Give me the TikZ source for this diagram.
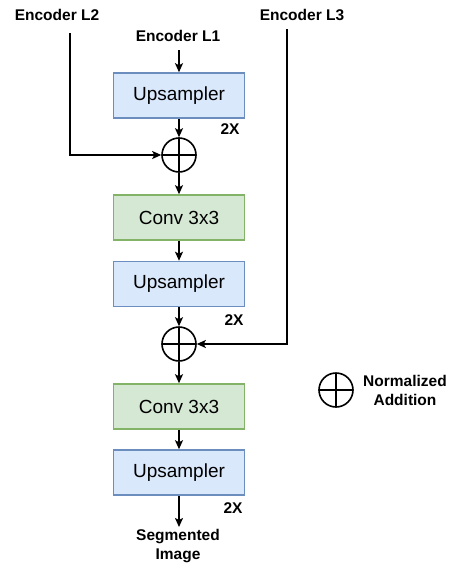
\documentclass[tikz,border=0pt]{standalone}
\usepackage{fontspec}
\setmainfont{Liberation Sans}
\usetikzlibrary{arrows.meta}
\definecolor{upfill}{HTML}{DAE8FC}
\definecolor{updraw}{HTML}{6C8EBF}
\definecolor{convfill}{HTML}{D5E8D4}
\definecolor{convdraw}{HTML}{82B366}
\begin{document}
\begin{tikzpicture}[x=1pt,y=-1pt,
  block/.style={minimum width=131pt,minimum height=45pt,line width=1.6pt,
    font=\fontsize{19}{22}\selectfont,inner sep=0pt},
  upbox/.style={block,draw=updraw,fill=upfill},
  convbox/.style={block,draw=convdraw,fill=convfill},
  lbl/.style={font=\fontsize{15.5}{19}\selectfont\bfseries,align=center,inner sep=0pt},
  sumnode/.style={circle,draw,line width=1.6pt,minimum size=34pt,inner sep=0pt,
    path picture={\draw[line width=1.6pt]
      (path picture bounding box.north) -- (path picture bounding box.south)
      (path picture bounding box.west) -- (path picture bounding box.east);}},
  conn/.style={line width=1.6pt,-{Stealth[length=9pt,width=8pt,inset=2pt]}},
]
\useasboundingbox (0,0) rectangle (450,568);

% inputs
\node[lbl] (l2) at (57,15) {Encoder L2};
\node[lbl] (l1) at (178,36) {Encoder L1};
\node[lbl] (l3) at (302,15) {Encoder L3};
\coordinate (l2s) at (70,33);
\coordinate (l1s) at (179,50);
\coordinate (l3s) at (287,29);

% decoder chain
\node[upbox] (up1) at (179,95.5) {Upsampler};
\node[lbl] (x1) at (230,129) {2X};
\node[sumnode] (s1) at (179,155) {};
\node[convbox] (c1) at (179,217.5) {Conv 3x3};
\node[upbox] (up2) at (179,284) {Upsampler};
\node[lbl] (x2) at (234,320) {2X};
\node[sumnode] (s2) at (179,344) {};
\node[convbox] (c2) at (179,406.5) {Conv 3x3};
\node[upbox] (up3) at (179,472.5) {Upsampler};
\node[lbl] (x3) at (233,508) {2X};
\node[lbl] (seg) at (178,546) {Segmented\\Image};
\coordinate (segn) at (179,527);

% legend
\node[sumnode] (leg) at (336,390) {};
\node[lbl] (legt) at (405,390) {Normalized\\Addition};

% connectors
\draw[conn] (l1s) -- (up1.north);
\draw[conn] (up1.south) -- (s1.north);
\draw[conn] (l2s) |- (s1.west);
\draw[conn] (s1.south) -- (c1.north);
\draw[conn] (c1.south) -- (up2.north);
\draw[conn] (up2.south) -- (s2.north);
\draw[conn] (l3s) |- (s2.east);
\draw[conn] (s2.south) -- (c2.north);
\draw[conn] (c2.south) -- (up3.north);
\draw[conn] (up3.south) -- (segn);
\end{tikzpicture}
\end{document}
